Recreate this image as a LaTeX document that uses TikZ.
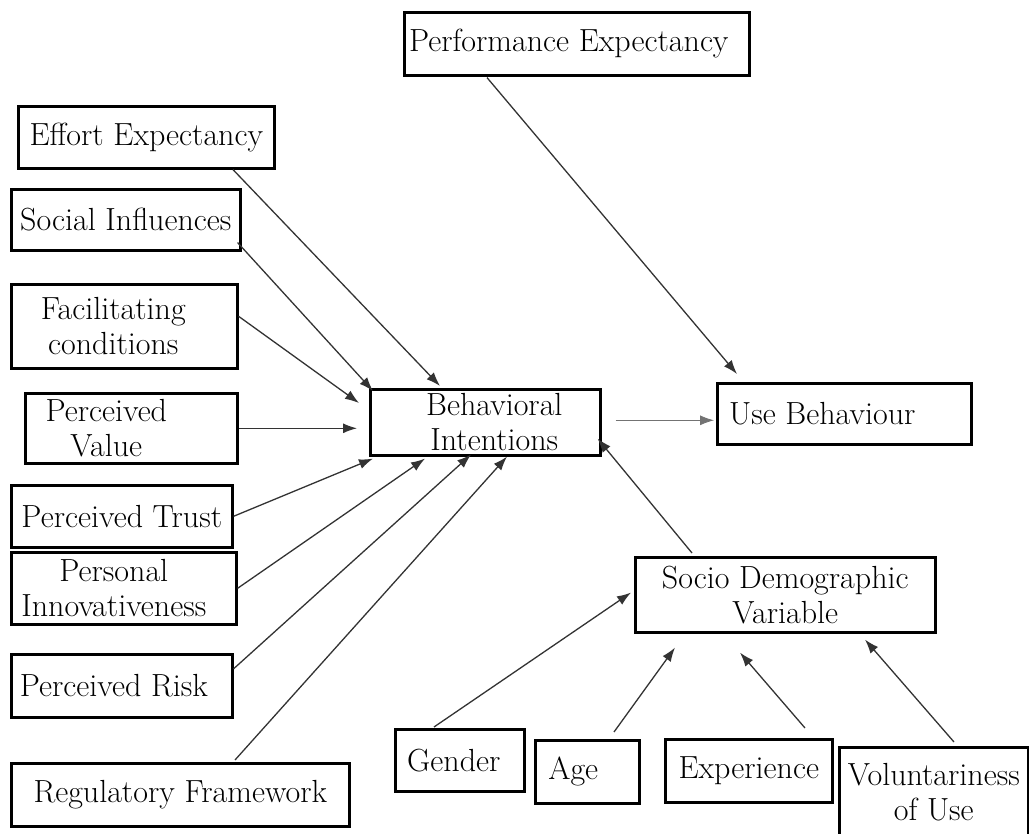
\documentclass[tikz,border=0pt]{standalone}
\usepackage{fontspec}
\usetikzlibrary{arrows.meta,calc}

\tikzset{
  factor/.style={draw, line width=2.6pt, anchor=north west, inner sep=2pt, align=center,
    font=\fontsize{32}{35}\selectfont},
  link/.style={draw=black!80, line width=1.3pt, -{Latex[length=14pt,width=10pt]}},
  thinlink/.style={link, draw=black!55, line width=0.8pt},
}

\begin{document}
\begin{tikzpicture}[x=1pt,y=-1pt]
  \useasboundingbox (0,0) rectangle (1029,834);

  % Nodes
  \node[factor, minimum width=345pt, minimum height=63pt] (perf_exp) at (403,11) {\hspace*{-16pt}Performance Expectancy};

  \node[factor, minimum width=256pt, minimum height=62pt] (effort_exp) at (17,105) {Effort Expectancy};
  \node[factor, minimum width=229pt, minimum height=61pt] (soc_infl) at (10,188) {Social Influences};
  \node[factor, minimum width=226pt, minimum height=84pt] (fac_cond) at (10,283) {\hspace*{-22pt}Facilitating\\\hspace*{-22pt}conditions};
  \node[factor, minimum width=212pt, minimum height=70pt] (perc_value) at (24,392) {\hspace*{-50pt}Perceived\\\hspace*{-50pt}Value};
  \node[factor, minimum width=221pt, minimum height=62pt] (perc_trust) at (10,484) {Perceived Trust};
  \node[factor, minimum width=225pt, minimum height=72pt] (pers_innov) at (10,551) {\hspace*{-20pt}Personal\\\hspace*{-20pt}Innovativeness};
  \node[factor, minimum width=221pt, minimum height=63pt] (perc_risk) at (10,653) {\hspace*{-16pt}Perceived Risk};
  \node[factor, minimum width=338pt, minimum height=63pt] (reg_frame) at (10,762) {Regulatory Framework};

  \node[factor, minimum width=230pt, minimum height=66pt] (beh_int) at (369,388) {\hspace*{18pt}Behavioral\\\hspace*{18pt}Intentions};
  \node[factor, minimum width=254pt, minimum height=61pt] (use_beh) at (716,382) {\hspace*{-44pt}Use Behaviour};

  \node[factor, minimum width=300pt, minimum height=75pt] (socio_dem) at (634,556) {Socio Demographic\\Variable};
  \node[factor, minimum width=129pt, minimum height=62pt] (gender) at (394,728) {\hspace*{-12pt}Gender};
  \node[factor, minimum width=104pt, minimum height=63pt] (age) at (534,739) {\hspace*{-28pt}Age};
  \node[factor, minimum width=167pt, minimum height=63pt] (experience) at (664,738) {Experience};
  \node[factor, minimum width=189pt, minimum height=90pt] (volunt) at (838,746) {Voluntariness\\of Use};

  % Edges
  \draw[link] ($(perf_exp.south west)+(84,1)$) -- ($(use_beh.north west)+(21,-8)$);

  \draw[link] ($(effort_exp.south west)+(216,0)$) -- ($(beh_int.north west)+(71,-2)$);
  \draw[link] ($(soc_infl.south east)+(-4,-9)$) -- ($(beh_int.north west)+(4,3)$);
  \draw[link] ($(fac_cond.east)+(0,-10)$) -- ($(beh_int.north west)+(-10,15)$);
  \draw[link] (perc_value.east) -- ($(beh_int.west |- perc_value.east)+(-12,0)$);
  \draw[link] (perc_trust.east) -- ($(beh_int.south west)+(4,2)$);
  \draw[link] (pers_innov.east) -- ($(beh_int.south west)+(56,2)$);
  \draw[link] ($(perc_risk.east)+(0,-17)$) -- ($(beh_int.south west)+(102,-2)$);
  \draw[link] ($(reg_frame.north west)+(225,-2)$) -- ($(beh_int.south west)+(138,0)$);

  \draw[thinlink] ($(beh_int.east)+(14,-2)$) -- ($(beh_int.east -| use_beh.west)+(-2,-2)$);
  \draw[link] ($(socio_dem.north west)+(58,-3)$) -- ($(beh_int.south east)+(-4,-18)$);

  \draw[link] ($(gender.north west)+(40,-1)$) -- ($(socio_dem.south west)+(-3,-41)$);
  \draw[link] ($(age.north west)+(80,-7)$) -- ($(socio_dem.south west)+(41,14)$);
  \draw[link] ($(experience.north west)+(141,-10)$) -- ($(socio_dem.south west)+(106,19)$);
  \draw[link] ($(volunt.north west)+(116,-4)$) -- ($(socio_dem.south west)+(231,6)$);
\end{tikzpicture}
\end{document}
